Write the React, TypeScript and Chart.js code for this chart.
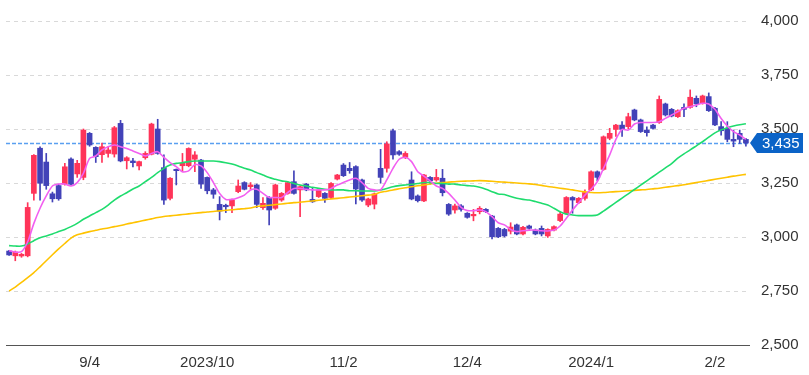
import { useEffect, useRef } from "react";
import { Chart, registerables } from "chart.js";

Chart.register(...registerables);

const dates = [
  "8/16","8/17","8/18","8/21","8/22","8/23","8/24","8/25","8/28","8/29","8/30","8/31",
  "9/1","9/4","9/5","9/6","9/7","9/8","9/11","9/12","9/13","9/14","9/15","9/19","9/20","9/21","9/22","9/25","9/26","9/27","9/28","9/29",
  "10/2","10/3","10/4","10/5","10/6","10/10","10/11","10/12","10/13","10/16","10/17","10/18","10/19","10/20","10/23","10/24","10/25","10/26","10/27","10/30","10/31",
  "11/1","11/2","11/6","11/7","11/8","11/9","11/10","11/13","11/14","11/15","11/16","11/17","11/20","11/21","11/22","11/24","11/27","11/28","11/29","11/30",
  "12/1","12/4","12/5","12/6","12/7","12/8","12/11","12/12","12/13","12/14","12/15","12/18","12/19","12/20","12/21","12/22","12/25","12/26","12/27","12/28","12/29",
  "1/4","1/5","1/9","1/10","1/11","1/12","1/15","1/16","1/17","1/18","1/19","1/22","1/23","1/24","1/25","1/26","1/29","1/30","1/31",
  "2/1","2/2","2/5","2/6","2/7","2/8","2/9",
];

const opens = [
  2935,2913,2912,2913,3202,3411,3347,3200,3238,3245,
  3361,3292,3276,3480,3415,3381,3387,3384,3526,3353,
  3352,3329,3367,3383,3500,3321,3179,3313,3330,3330,
  3360,3356,3276,3218,3151,3147,3144,3210,3252,3233,
  3241,3136,3183,3133,3171,3202,3256,3218,3245,3174,
  3187,3202,3183,3268,3333,3318,3326,3264,3148,3152,
  3318,3318,3492,3395,3369,3264,3190,3167,3276,3264,
  3272,3151,3125,3144,3110,3098,3117,3128,3097,3040,
  3035,3027,3056,3014,3051,3032,3040,3005,3032,3076,
  3110,3183,3159,3179,3218,3302,3313,3457,3498,3518,
  3511,3588,3542,3495,3518,3530,3616,3591,3557,3600,
  3600,3642,3619,3650,3596,3511,3503,3452,3480,3452,
];

const highs = [
  2938,2935,2924,3159,3382,3418,3387,3208,3245,3341,
  3366,3355,3500,3484,3418,3435,3418,3512,3540,3372,
  3364,3352,3395,3527,3545,3380,3275,3315,3387,3413,
  3395,3360,3278,3225,3187,3152,3176,3264,3256,3252,
  3245,3183,3187,3245,3206,3256,3306,3237,3248,3225,
  3222,3206,3252,3290,3340,3345,3330,3268,3180,3204,
  3406,3441,3500,3400,3395,3302,3195,3290,3280,3313,
  3313,3155,3152,3150,3113,3128,3141,3132,3100,3044,
  3040,3066,3060,3049,3055,3037,3051,3038,3052,3117,
  3187,3187,3183,3218,3306,3306,3468,3503,3522,3534,
  3573,3592,3546,3510,3522,3653,3620,3595,3589,3616,
  3681,3653,3657,3667,3600,3534,3534,3495,3495,3457,
];

const lows = [
  2915,2890,2906,2908,3171,3171,3221,3162,3170,3240,
  3240,3276,3265,3420,3345,3345,3370,3370,3348,3315,
  3325,3310,3360,3380,3383,3151,3172,3241,3302,3325,
  3302,3225,3200,3179,3079,3113,3113,3205,3218,3221,
  3136,3128,3056,3128,3165,3198,3198,3094,3214,3160,
  3183,3160,3178,3264,3280,3295,3153,3165,3140,3130,
  3249,3300,3360,3378,3363,3172,3162,3163,3245,3258,
  3190,3100,3110,3120,3087,3075,3107,3113,2991,2997,
  3000,3014,3010,3010,3036,3010,3005,2998,3028,3071,
  3106,3110,3155,3170,3214,3260,3309,3450,3466,3466,
  3500,3538,3484,3467,3499,3526,3560,3556,3553,3557,
  3596,3603,3615,3581,3515,3472,3441,3418,3433,3420,
];

const closes = [
  2917,2930,2920,3137,3378,3249,3238,3177,3177,3325,
  3244,3341,3495,3426,3372,3418,3403,3506,3352,3367,
  3344,3349,3387,3523,3387,3171,3272,3307,3341,3410,
  3380,3245,3214,3198,3120,3140,3171,3236,3221,3241,
  3151,3156,3125,3241,3202,3252,3202,3233,3218,3163,
  3218,3179,3248,3287,3284,3307,3222,3171,3176,3200,
  3276,3431,3380,3383,3387,3176,3168,3287,3260,3276,
  3205,3106,3144,3128,3091,3105,3133,3117,3001,3001,
  3005,3046,3014,3045,3040,3014,3014,3035,3048,3106,
  3183,3171,3179,3206,3302,3276,3464,3480,3518,3498,
  3557,3542,3488,3483,3503,3637,3565,3560,3585,3591,
  3647,3616,3653,3585,3519,3492,3452,3444,3452,3435,
];

const ma5 = [
  2937,2930,2932,2978,3063,3133,3190,3236,3245,3245,
  3236,3252,3295,3364,3375,3403,3418,3426,3418,3410,
  3398,3387,3375,3387,3395,3369,3344,3326,3302,3306,
  3336,3329,3298,3252,3202,3174,3174,3182,3194,3218,
  3221,3202,3183,3183,3183,3206,3225,3225,3221,3218,
  3218,3218,3225,3241,3252,3264,3272,3252,3225,3218,
  3218,3264,3318,3360,3369,3349,3302,3282,3260,3236,
  3225,3202,3171,3137,3122,3122,3125,3117,3094,3066,
  3056,3035,3025,3029,3032,3032,3029,3028,3032,3051,
  3087,3125,3159,3194,3221,3256,3318,3380,3452,3498,
  3495,3523,3530,3530,3530,3534,3549,3565,3580,3596,
  3603,3611,3619,3616,3591,3549,3514,3488,3472,3452,
];

const ma25 = [
  2960,2958,2958,2968,2983,2997,3005,3014,3025,3035,
  3048,3063,3082,3097,3113,3128,3148,3171,3190,3205,
  3222,3236,3256,3276,3298,3318,3333,3341,3344,3349,
  3352,3352,3352,3352,3349,3344,3338,3329,3318,3310,
  3298,3287,3275,3267,3260,3256,3248,3241,3236,3230,
  3225,3221,3218,3218,3218,3214,3214,3213,3213,3213,
  3218,3225,3233,3238,3241,3244,3248,3252,3252,3248,
  3248,3245,3245,3241,3238,3236,3230,3221,3210,3199,
  3197,3187,3179,3174,3171,3164,3156,3148,3133,3117,
  3106,3102,3099,3099,3099,3102,3120,3140,3160,3180,
  3200,3220,3240,3260,3280,3300,3320,3340,3365,3385,
  3403,3422,3441,3462,3482,3496,3506,3514,3520,3524,
];

const ma75 = [
  2750,2768,2790,2812,2835,2862,2890,2918,2945,2970,
  2995,3010,3018,3025,3031,3037,3042,3048,3053,3060,
  3066,3072,3078,3084,3090,3095,3098,3101,3104,3107,
  3110,3113,3116,3118,3121,3124,3126,3129,3131,3134,
  3141,3144,3147,3150,3153,3156,3159,3161,3164,3167,
  3170,3173,3176,3179,3182,3185,3188,3191,3194,3197,
  3207,3212,3218,3223,3228,3233,3237,3241,3245,3249,
  3252,3254,3256,3258,3259,3260,3261,3260,3258,3255,
  3254,3252,3250,3248,3246,3243,3239,3234,3230,3226,
  3222,3218,3213,3209,3206,3205,3206,3208,3210,3212,
  3214,3216,3218,3220,3223,3226,3230,3234,3238,3242,
  3247,3252,3257,3262,3267,3272,3277,3282,3286,3290,
];

const xTickLabels: Record<string, string> = {
  "9/4": "9/4",
  "10/2": "2023/10",
  "11/2": "11/2",
  "12/4": "12/4",
  "1/4": "2024/1",
  "2/2": "2/2",
};

const yMin = 2500;
const yMax = 4000;
const yStep = 250;
const lastPrice = 3435;

const UP = "#ff3459";
const DOWN = "#4242b8";
const FONT = "Arial, 'Liberation Sans', sans-serif";

export default function App() {
  const ref = useRef<HTMLCanvasElement>(null);

  useEffect(() => {
    if (!ref.current) return;
    const colors = closes.map((c, i) => (c >= opens[i] ? UP : DOWN));

    const overlay = {
      id: "overlay",
      beforeDatasetsDraw(chart: any) {
        const { ctx, chartArea, scales } = chart;
        ctx.save();
        ctx.strokeStyle = "#d9d9d9";
        ctx.lineWidth = 1;
        ctx.setLineDash([4, 4]);
        scales.y.ticks.forEach((t: any) => {
          if (t.value === yMin) return;
          const y = Math.round(scales.y.getPixelForValue(t.value)) + 0.5;
          ctx.beginPath();
          ctx.moveTo(chartArea.left, y);
          ctx.lineTo(chartArea.right, y);
          ctx.stroke();
        });
        const py = Math.round(scales.y.getPixelForValue(lastPrice)) + 0.5;
        ctx.strokeStyle = "#5a9ff0";
        ctx.lineWidth = 1.3;
        ctx.setLineDash([4, 2]);
        ctx.beginPath();
        ctx.moveTo(chartArea.left, py);
        ctx.lineTo(chartArea.right, py);
        ctx.stroke();
        ctx.restore();
      },
      afterDraw(chart: any) {
        const { ctx, chartArea, scales } = chart;
        const y = scales.y.getPixelForValue(lastPrice);
        const x0 = chartArea.right;
        ctx.save();
        ctx.fillStyle = "#0b63c7";
        ctx.beginPath();
        ctx.moveTo(x0 + 1, y);
        ctx.lineTo(x0 + 8, y - 10);
        ctx.lineTo(x0 + 54, y - 10);
        ctx.lineTo(x0 + 54, y + 10);
        ctx.lineTo(x0 + 8, y + 10);
        ctx.closePath();
        ctx.fill();
        ctx.fillStyle = "#ffffff";
        ctx.font = `15px ${FONT}`;
        ctx.textBaseline = "middle";
        ctx.textAlign = "left";
        ctx.fillText(lastPrice.toLocaleString("en-US"), x0 + 13, y + 1);
        ctx.restore();
      },
    };

    const chart = new Chart(ref.current, {
      type: "bar",
      data: {
        labels: dates,
        datasets: [
          {
            type: "line",
            data: ma5,
            borderColor: "#f25ff0",
            borderWidth: 1.6,
            pointRadius: 0,
            tension: 0.25,
            order: 1,
          } as any,
          {
            type: "line",
            data: ma25,
            borderColor: "#1fdc6e",
            borderWidth: 1.6,
            pointRadius: 0,
            tension: 0.25,
            order: 1,
          } as any,
          {
            type: "line",
            data: ma75,
            borderColor: "#ffc300",
            borderWidth: 1.6,
            pointRadius: 0,
            tension: 0.25,
            order: 1,
          } as any,
          {
            type: "bar",
            data: opens.map((o, i) => [o, closes[i]]),
            backgroundColor: colors,
            barThickness: 5,
            grouped: false,
            minBarLength: 1,
            order: 2,
          } as any,
          {
            type: "bar",
            data: lows.map((l, i) => [l, highs[i]]),
            backgroundColor: colors,
            barThickness: 1,
            grouped: false,
            order: 3,
          } as any,
        ],
      },
      options: {
        animation: false,
        responsive: false,
        devicePixelRatio: 1,
        layout: { padding: { left: 6, top: 21, right: 0, bottom: 0 } },
        plugins: {
          legend: { display: false },
          tooltip: { enabled: false },
        },
        scales: {
          x: {
            type: "category",
            grid: { display: false, drawTicks: false },
            border: { display: true, color: "#555555", width: 1 },
            ticks: {
              autoSkip: false,
              maxRotation: 0,
              minRotation: 0,
              padding: 9,
              color: "#333333",
              font: { family: FONT, size: 15 },
              callback: (_v: any, i: number) => xTickLabels[dates[i]] ?? "",
            },
            afterFit: (s: any) => {
              s.height = 30;
            },
          },
          y: {
            position: "right",
            min: yMin,
            max: yMax,
            grid: { display: false, drawTicks: false },
            border: { display: false },
            ticks: {
              stepSize: yStep,
              padding: 12,
              color: "#333333",
              font: { family: FONT, size: 15 },
              callback: (v: any) => Number(v).toLocaleString("en-US"),
            },
            afterFit: (s: any) => {
              s.width = 60;
            },
          },
        },
      } as any,
      plugins: [overlay],
    });

    return () => chart.destroy();
  }, []);

  return (
    <div style={{ position: "absolute", left: 0, top: 0, width: 809, height: 375, background: "#fff" }}>
      <canvas ref={ref} width={809} height={375} style={{ display: "block" }} />
    </div>
  );
}
